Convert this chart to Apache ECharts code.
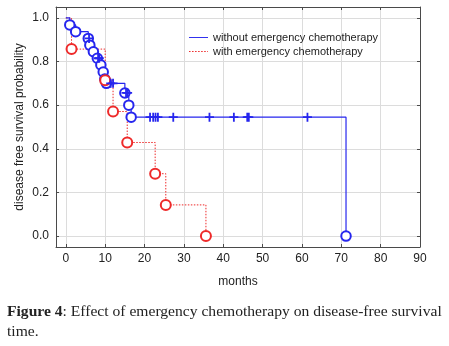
<!DOCTYPE html>
<html><head><meta charset="utf-8">
<script src="https://cdn.jsdelivr.net/npm/echarts@6/dist/echarts.min.js"></script>
<style>html,body{margin:0;padding:0;background:#fff}#c{width:449px;height:346px}</style>
</head><body><div id="c"></div>
<script>
// Step curve points (time in months, survival after step)
const blueTimes = [0, 1.0, 2.5, 5.7, 6.1, 7.0, 8.0, 8.9, 9.5, 9.9, 10.3, 15.0, 16.0, 16.6, 71.2];
const blueSurv  = [1.0, 0.968, 0.937, 0.906, 0.875, 0.845, 0.815, 0.784, 0.752, 0.72, 0.70, 0.656, 0.60, 0.545, 0.0];
const blueEventTimes = [1.0, 2.5, 5.7, 6.1, 7.0, 8.0, 8.9, 9.5, 9.9, 10.3, 15.0, 16.0, 16.6, 71.2];
const blueEventSurv  = [0.968, 0.937, 0.906, 0.875, 0.845, 0.815, 0.784, 0.752, 0.72, 0.70, 0.656, 0.60, 0.545, 0.0];
const blueCensorTimes = [5.9, 8.2, 8.5, 11.4, 12.0, 15.3, 15.7, 21.4, 22.2, 22.8, 23.4, 27.3, 36.5, 42.7, 46.1, 46.5, 61.4];
const blueCensorSurv  = [0.906, 0.815, 0.815, 0.70, 0.70, 0.656, 0.656, 0.545, 0.545, 0.545, 0.545, 0.545, 0.545, 0.545, 0.545, 0.545, 0.545];
const redTimes = [0, 1.45, 10.0, 12.0, 15.6, 22.7, 25.4, 35.6];
const redSurv  = [1.0, 0.857, 0.714, 0.571, 0.429, 0.286, 0.143, 0.0];
const xTicks = [0, 10, 20, 30, 40, 50, 60, 70, 80, 90];
const yTicks = [0, 0.2, 0.4, 0.6, 0.8, 1.0];
const seriesNames = ['without emergency chemotherapy', 'with emergency chemotherapy'];

const BLUE = '#2626ee', RED = '#ee2a2a';
const zip = (a, b) => a.map((v, i) => [v, b[i]]);
const crossPath = 'path://M0,4H10V6H0ZM4,0H6V10H4Z';
const solidIcon = 'path://M0,0H20V1H0Z';
const dottedIcon = 'path://M0,0h1.6v1h-1.6zM3.2,0h1.6v1h-1.6zM6.4,0h1.6v1h-1.6zM9.6,0h1.6v1h-1.6zM12.8,0h1.6v1h-1.6zM16,0h1.6v1h-1.6zM19.2,0h0.8v1h-0.8z';
const chart = echarts.init(document.getElementById('c'), null, {renderer: 'canvas'});
const FRAME = '#4a4a4a';
function ax(extra) {
  return Object.assign({
    axisLine: {show: true, onZero: false, lineStyle: {color: FRAME, width: 1}},
    splitLine: {show: false}
  }, extra);
}
chart.setOption({
  animation: false,
  textStyle: {fontFamily: 'Liberation Sans, Arial, sans-serif'},
  grid: {left: 56, right: 29, top: 7, bottom: 99},
  title: {
    left: 2, top: 297,
    text: '{b|Figure 4}: Effect of emergency chemotherapy on disease-free survival\ntime.',
    textStyle: {fontFamily: 'Liberation Serif, DejaVu Serif, serif', fontSize: 15.6, fontWeight: 'normal', color: '#222', lineHeight: 20,
      rich: {b: {fontFamily: 'Liberation Serif, DejaVu Serif, serif', fontSize: 15.6, fontWeight: 'bold', color: '#222'}}}
  },
  legend: {
    left: 184, top: 27, orient: 'vertical', itemGap: 3, itemWidth: 19, itemHeight: 11,
    data: [{name: seriesNames[0], icon: solidIcon}, {name: seriesNames[1], icon: dottedIcon}],
    textStyle: {fontSize: 11, color: '#222', fontFamily: 'Liberation Sans, Arial, sans-serif'}
  },
  xAxis: [
    ax({
      type: 'value', min: -2.5, max: 90, position: 'bottom',
      name: 'months', nameLocation: 'middle', nameGap: 29,
      nameTextStyle: {fontSize: 12, color: '#222'},
      axisTick: {show: true, inside: true, length: 3, lineStyle: {color: FRAME}, customValues: xTicks},
      axisLabel: {customValues: xTicks, fontSize: 12, color: '#222', margin: 6},
      splitLine: {show: true, lineStyle: {color: '#dcdcdc', width: 1}}
    }),
    ax({
      type: 'value', min: -2.5, max: 90, position: 'top',
      axisTick: {show: true, inside: true, length: 3, lineStyle: {color: FRAME}, customValues: xTicks},
      axisLabel: {show: false}
    })
  ],
  yAxis: [
    ax({
      type: 'value', min: -0.05, max: 1.05, position: 'left',
      name: 'disease free survival probability', nameLocation: 'middle', nameGap: 30, nameMoveOverlap: false,
      nameTextStyle: {fontSize: 12, color: '#222'},
      axisTick: {show: true, inside: true, length: 3, lineStyle: {color: FRAME}, customValues: yTicks},
      axisLabel: {customValues: yTicks, fontSize: 12, color: '#222', margin: 7, formatter: v => v.toFixed(1)},
      splitLine: {show: true, lineStyle: {color: '#dcdcdc', width: 1}}
    }),
    ax({
      type: 'value', min: -0.05, max: 1.05, position: 'right',
      axisTick: {show: true, inside: true, length: 3, lineStyle: {color: FRAME}, customValues: yTicks},
      axisLabel: {show: false}
    })
  ],
  series: [
    {name: seriesNames[0], type: 'line', step: 'end', data: zip(blueTimes, blueSurv), symbol: 'none', showSymbol: false,
     lineStyle: {color: BLUE, width: 1.2}, itemStyle: {color: BLUE}, z: 3},
    {name: 'blue events', type: 'scatter', data: zip(blueEventTimes, blueEventSurv), symbol: 'emptyCircle', symbolSize: 9.5,
     itemStyle: {color: BLUE, borderColor: BLUE, borderWidth: 1.2, opacity: 1}, z: 4},
    {name: 'blue censored', type: 'scatter', data: zip(blueCensorTimes, blueCensorSurv), symbol: crossPath, symbolSize: 9,
     itemStyle: {color: BLUE, opacity: 1}, z: 5},
    {name: seriesNames[1], type: 'line', step: 'end', data: zip(redTimes, redSurv), symbol: 'none', showSymbol: false,
     lineStyle: {color: RED, width: 1, type: [1.5, 1.5]}, itemStyle: {color: RED}, z: 2},
    {name: 'red events', type: 'scatter', data: zip(redTimes.slice(1), redSurv.slice(1)), symbol: 'emptyCircle', symbolSize: 10,
     itemStyle: {color: RED, borderColor: RED, borderWidth: 1.1, opacity: 1}, z: 4}
  ]
});
</script></body></html>
